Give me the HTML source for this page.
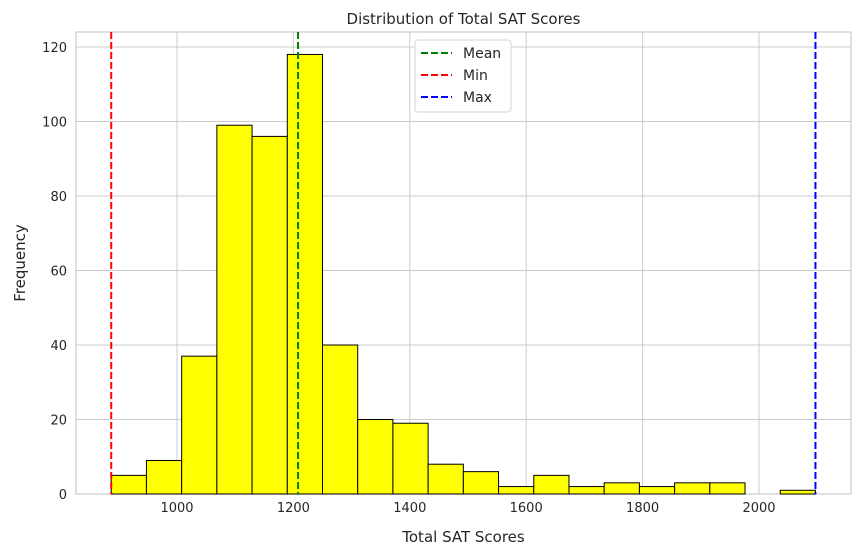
<!DOCTYPE html>
<html><head><meta charset="utf-8"><style>
html,body{margin:0;padding:0;background:#fff;}
svg{display:block;font-family:"DejaVu Sans","Liberation Sans",sans-serif;}
</style></head><body>
<svg id="chart" width="860" height="556" viewBox="0 0 860 556" xmlns="http://www.w3.org/2000/svg"></svg>
<script>
const binStart = 887;
const binWidth = 60.5;
const counts = [5, 9, 37, 99, 96, 118, 40, 20, 19, 8, 6, 2, 5, 2, 3, 2, 3, 3, 0, 1];
const xTicks = [1000, 1200, 1400, 1600, 1800, 2000];
const yTicks = [0, 20, 40, 60, 80, 100, 120];
const meanVal = 1208;
const minVal = 887;
const maxVal = 2097;

const L = 76, R = 851, T = 32, B = 494;
function xs(v){ return 177 + (v - 1000) * 0.582; }
function ys(v){ return 494 - v * 3.725; }
const NS = "http://www.w3.org/2000/svg";
const svg = document.getElementById('chart');
function mk(tag, attrs, parent){
  const e = document.createElementNS(NS, tag);
  for (const k in attrs) e.setAttribute(k, attrs[k]);
  (parent || svg).appendChild(e);
  return e;
}
// plot background border
const frame = mk('rect', {x:L, y:T, width:R-L, height:B-T, fill:'#fff', stroke:'#cccccc', 'stroke-width':1.25});


// grid
xTicks.forEach(v => {
  const g = mk('line', {x1:xs(v), x2:xs(v), y1:T, y2:B, stroke:'#cccccc', 'stroke-width':1});
  
  
  const t = mk('text', {x:xs(v), y:B+18, 'text-anchor':'middle', 'font-size':13, fill:'#262626'});
  t.textContent = v;
  
  
});
yTicks.forEach(v => {
  const g = mk('line', {x1:L, x2:R, y1:ys(v), y2:ys(v), stroke:'#cccccc', 'stroke-width':1});
  
  
  const t = mk('text', {x:L-9, y:ys(v)+5, 'text-anchor':'end', 'font-size':13, fill:'#262626'});
  t.textContent = v;
  
  
});
// bars
counts.forEach((c, i) => {
  const x0 = xs(binStart + i*binWidth), x1 = xs(binStart + (i+1)*binWidth);
  const r = mk('rect', {x:x0, y:ys(c), width:x1-x0, height:ys(0)-ys(c), fill:'#ffff00', stroke:'#000', 'stroke-width':1});
  
  
});
// vlines
[[meanVal,'#008000','mean-line'],[minVal,'#ff0000','min-line'],[maxVal,'#0000ff','max-line']].forEach(d => {
  const l = mk('line', {x1:xs(d[0]), x2:xs(d[0]), y1:T, y2:B, stroke:d[1], 'stroke-width':2, 'stroke-dasharray':'7,3'});
  
  
});
// legend
const lg = mk('g', {});


mk('rect', {x:415, y:40, width:96, height:72, rx:3, fill:'#fff', 'fill-opacity':0.85, stroke:'#d6d6d6'}, lg);
[['Mean','#008000'],['Min','#ff0000'],['Max','#0000ff']].forEach((d, i) => {
  const y = 53 + i*22;
  const l = mk('line', {x1:421, x2:452, y1:y, y2:y, stroke:d[1], 'stroke-width':2, 'stroke-dasharray':'7,3'}, lg);
  
  
  const t = mk('text', {x:463, y:y+5, 'font-size':14, fill:'#262626'}, lg);
  t.textContent = d[0];
  
  
});
// titles
const ti = mk('text', {x:(L+R)/2, y:24, 'text-anchor':'middle', 'font-size':15, fill:'#262626'});
ti.textContent = 'Distribution of Total SAT Scores';


const xt = mk('text', {x:(L+R)/2, y:542, 'text-anchor':'middle', 'font-size':15, fill:'#262626'});
xt.textContent = 'Total SAT Scores';


const yt = mk('text', {x:0, y:0, 'text-anchor':'middle', 'font-size':15, fill:'#262626', transform:'translate(25,263) rotate(-90)'});
yt.textContent = 'Frequency';


</script>
</body></html>
